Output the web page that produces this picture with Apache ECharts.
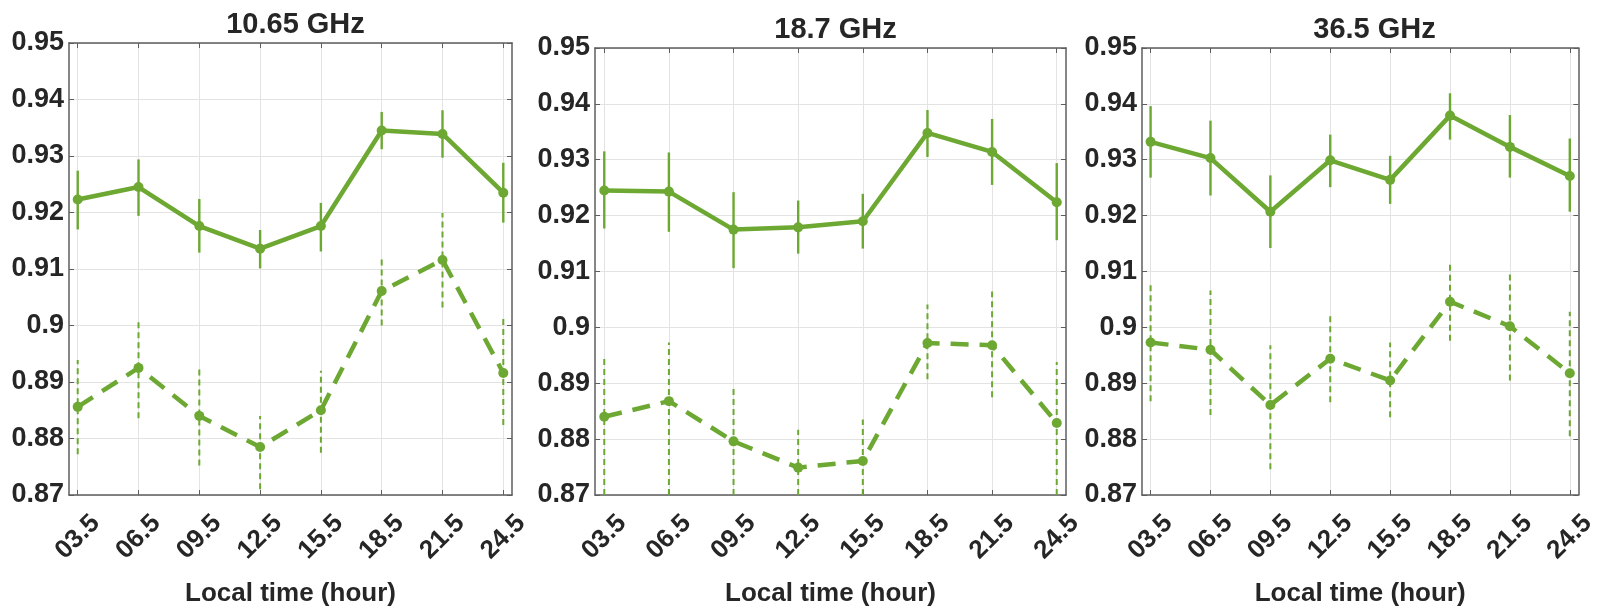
<!DOCTYPE html>
<html>
<head>
<meta charset="utf-8">
<script src="https://cdn.jsdelivr.net/npm/echarts@6/dist/echarts.min.js"></script>
<style>
html,body{margin:0;padding:0;background:#fff;}
#chart{width:1599px;height:612px;}
</style>
</head>
<body>
<div id="chart"></div>
<script>
// ---- data ----
const hours = [3.5, 6.5, 9.5, 12.5, 15.5, 18.5, 21.5, 24.5];
const hourLabels = ['03.5', '06.5', '09.5', '12.5', '15.5', '18.5', '21.5', '24.5'];
const titles = ['10.65 GHz', '18.7 GHz', '36.5 GHz'];
const xName = 'Local time (hour)';
const yTicks = [0.87, 0.88, 0.89, 0.90, 0.91, 0.92, 0.93, 0.94, 0.95];

// 10.65 GHz
const p1SolidMean = [0.9223, 0.9245, 0.9176, 0.9136, 0.9176, 0.9345, 0.9339, 0.9235];
const p1SolidLo   = [0.9170, 0.9194, 0.9129, 0.9101, 0.9131, 0.9312, 0.9297, 0.9182];
const p1SolidHi   = [0.9274, 0.9294, 0.9224, 0.9169, 0.9217, 0.9378, 0.9381, 0.9288];
const p1DashMean  = [0.8856, 0.8925, 0.8840, 0.8785, 0.8850, 0.9061, 0.9116, 0.8916];
const p1DashLo    = [0.8772, 0.8836, 0.8752, 0.8710, 0.8775, 0.9000, 0.9032, 0.8824];
const p1DashHi    = [0.8939, 0.9006, 0.8925, 0.8840, 0.8920, 0.9119, 0.9199, 0.9012];

// 18.7 GHz
const p2SolidMean = [0.9245, 0.9243, 0.9175, 0.9179, 0.9190, 0.9348, 0.9314, 0.9224];
const p2SolidLo   = [0.9177, 0.9171, 0.9106, 0.9132, 0.9141, 0.9305, 0.9255, 0.9156];
const p2SolidHi   = [0.9315, 0.9313, 0.9242, 0.9227, 0.9239, 0.9389, 0.9373, 0.9294];
const p2DashMean  = [0.8840, 0.8868, 0.8796, 0.8749, 0.8761, 0.8972, 0.8968, 0.8829];
const p2DashLo    = [0.8700, 0.8700, 0.8700, 0.8700, 0.8700, 0.8907, 0.8875, 0.8700];
const p2DashHi    = [0.8946, 0.8973, 0.8896, 0.8817, 0.8835, 0.9041, 0.9064, 0.8938];

// 36.5 GHz
const p3SolidMean = [0.9332, 0.9303, 0.9207, 0.9299, 0.9264, 0.9379, 0.9323, 0.9271];
const p3SolidLo   = [0.9268, 0.9236, 0.9142, 0.9251, 0.9221, 0.9336, 0.9268, 0.9207];
const p3SolidHi   = [0.9396, 0.9370, 0.9272, 0.9345, 0.9307, 0.9419, 0.9380, 0.9338];
const p3DashMean  = [0.8973, 0.8960, 0.8861, 0.8944, 0.8905, 0.9046, 0.9002, 0.8918];
const p3DashLo    = [0.8868, 0.8843, 0.8746, 0.8866, 0.8839, 0.8976, 0.8905, 0.8805];
const p3DashHi    = [0.9082, 0.9066, 0.8968, 0.9024, 0.8973, 0.9115, 0.9099, 0.9028];

const panels = [
  {solid: [p1SolidMean, p1SolidLo, p1SolidHi], dash: [p1DashMean, p1DashLo, p1DashHi]},
  {solid: [p2SolidMean, p2SolidLo, p2SolidHi], dash: [p2DashMean, p2DashLo, p2DashHi]},
  {solid: [p3SolidMean, p3SolidLo, p3SolidHi], dash: [p3DashMean, p3DashLo, p3DashHi]}
];

// ---- layout / style ----
const GREEN = '#6ca832';
const TXT = '#262626';
const FRAME = '#5e5e5e';
const FONT = '"Liberation Sans", Arial, Helvetica, sans-serif';
const grids = [
  {left: 69, top: 43, width: 443, height: 462},
  {left: 595, top: 48, width: 471, height: 465},
  {left: 1142, top: 48, width: 455, height: 459}
];
const titleTops = [5, 10, 10];
const X_MIN = 3.07, X_MAX = 24.93;

const option = {
  animation: false,
  backgroundColor: '#fff',
  title: [], grid: [], xAxis: [], yAxis: [], series: []
};

function errBarSeries(gi, mean, lo, hi, dash, width) {
  return {
    type: 'custom',
    xAxisIndex: gi * 2, yAxisIndex: gi * 2,
    z: 3,
    data: hours.map((h, i) => [h, lo[i], hi[i]]),
    renderItem: function (params, api) {
      const a = api.coord([api.value(0), api.value(1)]);
      const b = api.coord([api.value(0), api.value(2)]);
      return {
        type: 'line',
        shape: {x1: a[0], y1: a[1], x2: b[0], y2: b[1]},
        style: {stroke: GREEN, lineWidth: width, lineDash: dash, fill: null}
      };
    }
  };
}

grids.forEach((g, gi) => {
  option.title.push({
    text: titles[gi],
    left: g.left + g.width / 2,
    top: titleTops[gi],
    textAlign: 'center',
    textStyle: {fontFamily: FONT, fontSize: 29, fontWeight: 'bold', color: TXT}
  });
  option.grid.push({left: g.left, top: g.top, width: g.width, height: g.height, containLabel: false});
  const xBase = {
    type: 'value', gridIndex: gi, min: X_MIN, max: X_MAX,
    axisLine: {show: true, lineStyle: {color: FRAME, width: 1.5}},
    axisTick: {show: true, inside: true, length: 5, customValues: hours, lineStyle: {color: FRAME, width: 1}}
  };
  option.xAxis.push(Object.assign({}, xBase, {
    position: 'bottom',
    name: xName, nameLocation: 'middle', nameGap: 86,
    nameTextStyle: {fontFamily: FONT, fontSize: 26, fontWeight: 'bold', color: TXT},
    splitLine: {show: true, lineStyle: {color: '#e3e3e3', width: 1}},
    axisLabel: {
      show: true, customValues: hours, rotate: 45, margin: 42,
      align: 'center', verticalAlign: 'middle',
      fontFamily: FONT, fontSize: 26, fontWeight: 'bold', color: TXT,
      formatter: function (v) { const k = hours.indexOf(v); return k >= 0 ? hourLabels[k] : ''; }
    }
  }));
  option.xAxis.push(Object.assign({}, xBase, {
    position: 'top', splitLine: {show: false}, axisLabel: {show: false}
  }));
  const yBase = {
    type: 'value', gridIndex: gi, min: yTicks[0], max: yTicks[yTicks.length - 1], interval: 0.01,
    axisLine: {show: true, lineStyle: {color: FRAME, width: 1.5}},
    axisTick: {show: true, inside: true, length: 5, lineStyle: {color: FRAME, width: 1}}
  };
  option.yAxis.push(Object.assign({}, yBase, {
    position: 'left',
    splitLine: {show: true, lineStyle: {color: '#e3e3e3', width: 1}},
    axisLabel: {
      show: true, margin: 5, fontFamily: FONT, fontSize: 27, fontWeight: 'bold', color: TXT,
      formatter: function (v) { return String(+v.toFixed(2)); }
    }
  }));
  option.yAxis.push(Object.assign({}, yBase, {
    position: 'right', splitLine: {show: false}, axisLabel: {show: false}
  }));

  const p = panels[gi];
  // error bars
  option.series.push(errBarSeries(gi, p.solid[0], p.solid[1], p.solid[2], null, 2.4));
  option.series.push(errBarSeries(gi, p.dash[0], p.dash[1], p.dash[2], [6, 4], 2));
  // solid line
  option.series.push({
    type: 'line', xAxisIndex: gi * 2, yAxisIndex: gi * 2, z: 4,
    data: hours.map((h, i) => [h, p.solid[0][i]]),
    symbol: 'circle', symbolSize: 10,
    itemStyle: {color: GREEN},
    lineStyle: {color: GREEN, width: 4.5}
  });
  // dashed line
  option.series.push({
    type: 'line', xAxisIndex: gi * 2, yAxisIndex: gi * 2, z: 4,
    data: hours.map((h, i) => [h, p.dash[0][i]]),
    symbol: 'circle', symbolSize: 10,
    itemStyle: {color: GREEN},
    lineStyle: {color: GREEN, width: 4.5, type: [18, 11]}
  });
});

const chart = echarts.init(document.getElementById('chart'), null, {renderer: 'canvas'});
chart.setOption(option);
</script>
</body>
</html>
